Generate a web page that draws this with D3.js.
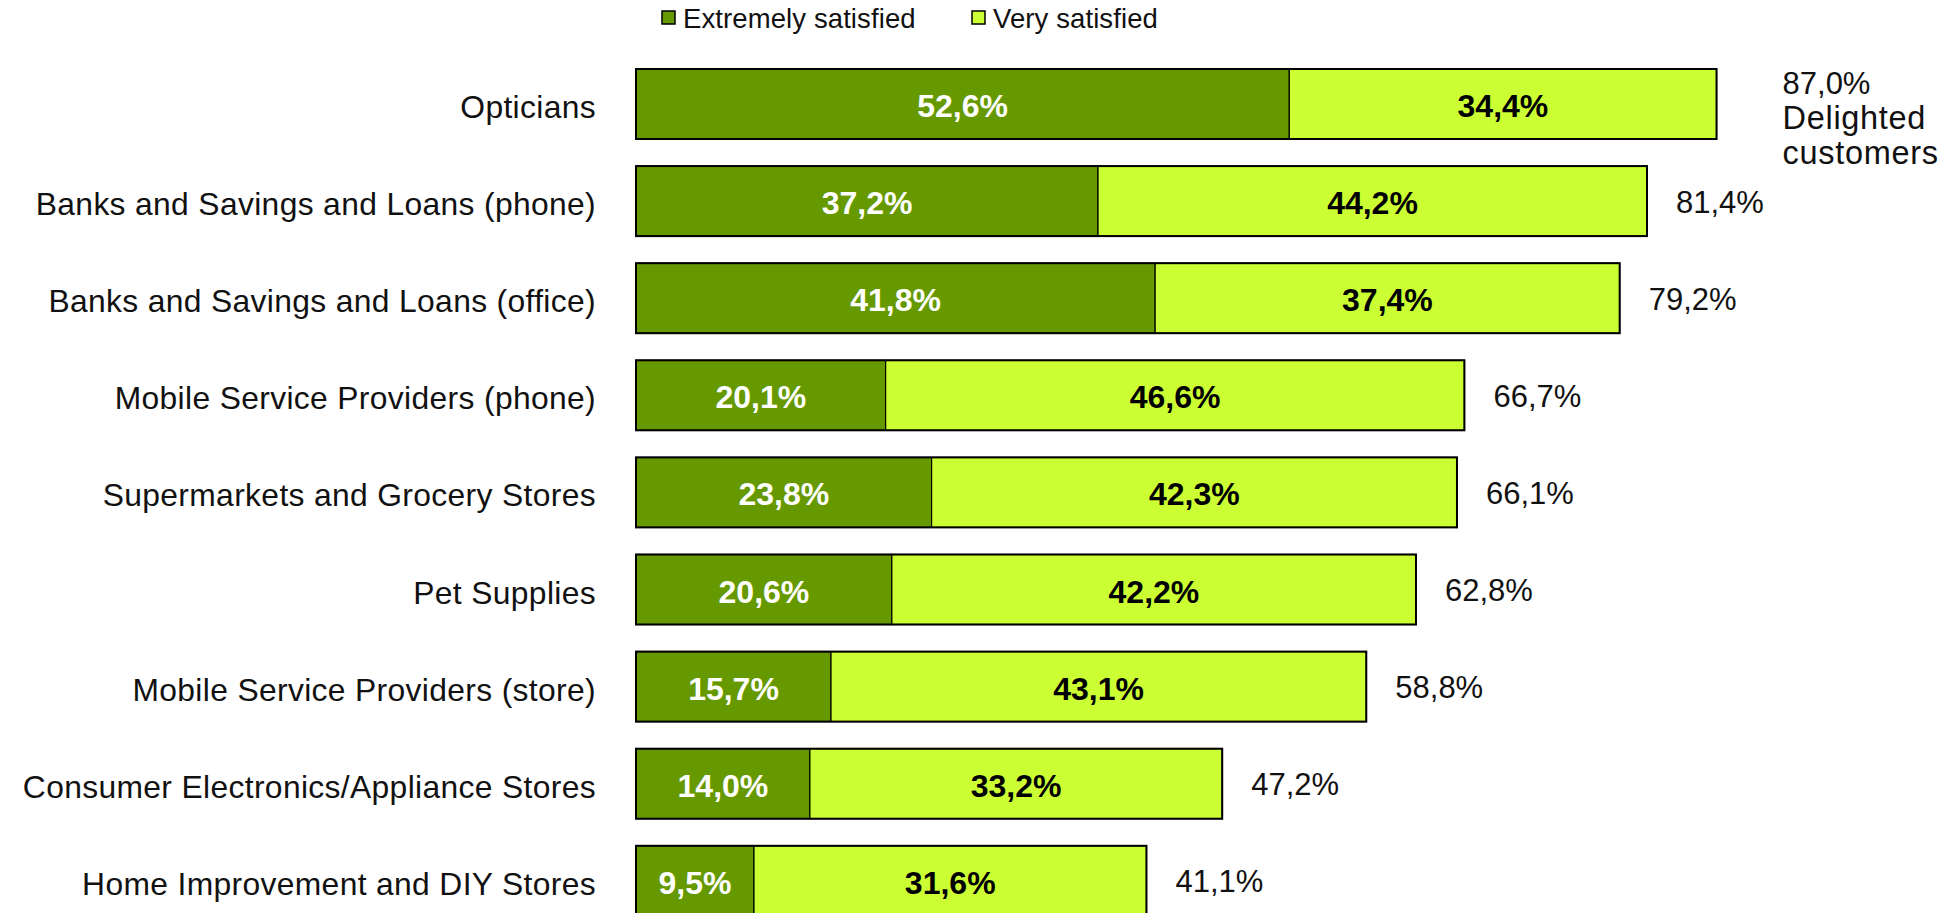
<!DOCTYPE html>
<html>
<head>
<meta charset="utf-8">
<script src="https://cdn.jsdelivr.net/npm/d3@7"></script>
<style>
  html, body { margin: 0; padding: 0; background: #fff; }
  svg { display: block; }
  text { font-family: "Liberation Sans", Arial, Helvetica, sans-serif; }
</style>
</head>
<body>
<svg id="chart" width="1959" height="913"></svg>
<script>
// Customer satisfaction by industry (share of respondents, %)
const categories = [
  "Opticians",
  "Banks and Savings and Loans (phone)",
  "Banks and Savings and Loans (office)",
  "Mobile Service Providers (phone)",
  "Supermarkets and Grocery Stores",
  "Pet Supplies",
  "Mobile Service Providers (store)",
  "Consumer Electronics/Appliance Stores",
  "Home Improvement and DIY Stores"
];
const extremelySatisfied = [52.6, 37.2, 41.8, 20.1, 23.8, 20.6, 15.7, 14.0, 9.5];
const verySatisfied      = [34.4, 44.2, 37.4, 46.6, 42.3, 42.2, 43.1, 33.2, 31.6];
const totals             = [87.0, 81.4, 79.2, 66.7, 66.1, 62.8, 58.8, 47.2, 41.1];
const seriesNames = ["Extremely satisfied", "Very satisfied"];
const totalNote = ["Delighted", "customers"];

const colors = ["#669900", "#CCFF33"];
const labelColors = ["#ffffff", "#000000"];

const fmt = v => d3.format(".1f")(v).replace(".", ",") + "%";

const svg = d3.select("#chart");

const rows = categories.map((c, i) => ({
  name: c,
  parts: [extremelySatisfied[i], verySatisfied[i]],
  total: totals[i],
  idx: i
}));

const x = d3.scaleLinear().domain([0, 100]).range([636, 636 + 1242]);
const y = d3.scaleBand()
  .domain(categories)
  .range([55.45, 55.45 + 97.1 * categories.length])
  .paddingInner(0.279)
  .paddingOuter(0.1395);

// Category labels
svg.append("g")
  .selectAll("text")
  .data(rows)
  .join("text")
  .attr("x", 596)
  .attr("y", d => y(d.name) + y.bandwidth() / 2 + 3)
  .attr("text-anchor", "end")
  .attr("dominant-baseline", "central")
  .attr("font-size", 31.8)
  .attr("letter-spacing", 0.35)
  .attr("fill", "#111")
  .text(d => d.name);

// Stacked segments
const stack = d3.stack().keys([0, 1]).value((d, k) => d.parts[k]);
const layers = stack(rows);

const segG = svg.append("g");
layers.forEach((layer, k) => {
  const g = segG.append("g");
  g.selectAll("rect")
    .data(layer)
    .join("rect")
    .attr("x", d => x(d[0]))
    .attr("y", d => y(d.data.name))
    .attr("width", d => x(d[1]) - x(d[0]))
    .attr("height", y.bandwidth())
    .attr("fill", colors[k])
    .attr("stroke", "#000")
    .attr("stroke-width", 1.2);
});

// Outer outline of each bar
svg.append("g")
  .selectAll("rect")
  .data(rows)
  .join("rect")
  .attr("x", d => x(0))
  .attr("y", d => y(d.name))
  .attr("width", d => x(d.parts[0] + d.parts[1]) - x(0))
  .attr("height", y.bandwidth())
  .attr("fill", "none")
  .attr("stroke", "#000")
  .attr("stroke-width", 2);

// Segment value labels
layers.forEach((layer, k) => {
  svg.append("g")
    .selectAll("text")
    .data(layer)
    .join("text")
    .attr("x", d => (x(d[0]) + x(d[1])) / 2)
    .attr("y", d => y(d.data.name) + y.bandwidth() / 2 + 2)
    .attr("text-anchor", "middle")
    .attr("dominant-baseline", "central")
    .attr("font-size", 32)
    .attr("font-weight", "bold")
    .attr("fill", labelColors[k])
    .text(d => fmt(d[1] - d[0]));
});

// Totals to the right of each bar
const totG = svg.append("g");
rows.forEach(d => {
  const cy = y(d.name) + y.bandwidth() / 2;
  if (d.idx === 0) {
    const t = totG.append("text")
      .attr("x", x(d.total) + 66)
      .attr("y", cy - 21)
      .attr("dominant-baseline", "central")
      .attr("font-size", 31)
      .attr("fill", "#111");
    [fmt(d.total), ...totalNote].forEach((line, j) => {
      t.append("tspan")
        .attr("x", x(d.total) + 66)
        .attr("dy", j === 0 ? 0 : 35)
        .attr("font-size", j === 0 ? 31 : 32.5)
        .attr("letter-spacing", j === 0 ? 0 : 0.7)
        .text(line);
    });
  } else {
    totG.append("text")
      .attr("x", x(d.total) + 29)
      .attr("y", cy + 1)
      .attr("dominant-baseline", "central")
      .attr("font-size", 31)
      .attr("fill", "#111")
      .text(fmt(d.total));
  }
});

// Legend
const legendX = [662, 972];
const legend = svg.append("g");
seriesNames.forEach((name, k) => {
  const g = legend.append("g").attr("transform", `translate(${legendX[k]},11)`);
  g.append("rect")
    .attr("width", 13).attr("height", 13)
    .attr("fill", colors[k])
    .attr("stroke", "#000").attr("stroke-width", 1.5);
  g.append("text")
    .attr("x", 21).attr("y", 7)
    .attr("dominant-baseline", "central")
    .attr("font-size", 27.5)
    .attr("letter-spacing", 0.1)
    .attr("fill", "#111")
    .text(name);
});
</script>
</body>
</html>
